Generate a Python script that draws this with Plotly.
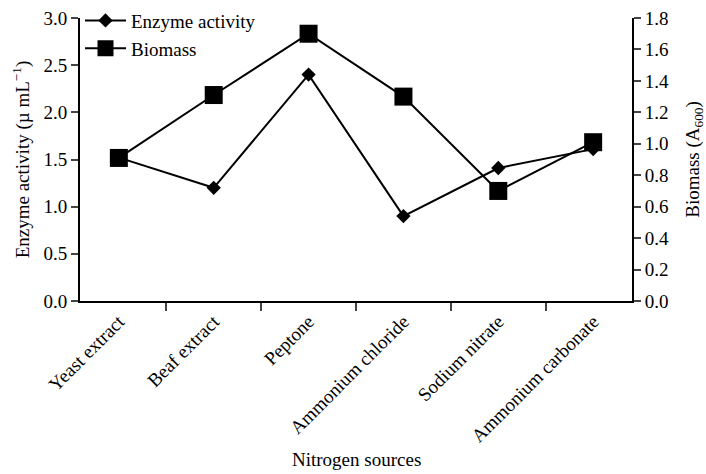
import plotly.graph_objects as go

categories = ["Yeast extract", "Beaf extract", "Peptone", "Ammonium chloride",
              "Sodium nitrate", "Ammonium carbonate"]
enzyme_activity = [1.52, 1.20, 2.40, 0.90, 1.41, 1.61]
biomass = [0.91, 1.31, 1.70, 1.30, 0.70, 1.01]

FONT = "Liberation Serif"

fig = go.Figure()
fig.add_trace(go.Scatter(
    x=categories, y=enzyme_activity, name="Enzyme activity",
    mode="lines+markers",
    line=dict(color="black", width=2),
    marker=dict(symbol="diamond", size=11, color="black"),
    yaxis="y", cliponaxis=False,
))
fig.add_trace(go.Scatter(
    x=categories, y=biomass, name="Biomass",
    mode="lines+markers",
    line=dict(color="black", width=2),
    marker=dict(symbol="square", size=18, color="black"),
    yaxis="y2", cliponaxis=False,
))

fig.update_layout(
    width=706, height=474,
    margin=dict(l=80, r=74, t=18, b=173, autoexpand=False),
    paper_bgcolor="white", plot_bgcolor="white",
    font=dict(family=FONT, size=19, color="black"),
    showlegend=True,
    legend=dict(x=0.0, y=1.058, xanchor="left", yanchor="top",
                bgcolor="rgba(0,0,0,0)", font=dict(size=19),
                tracegroupgap=0, itemsizing="trace", itemwidth=41),
    xaxis=dict(
        type="category", tickson="boundaries", ticks="outside", ticklen=8,
        tickwidth=2, showline=True, linewidth=2, linecolor="black",
        tickangle=-45, showgrid=False, zeroline=False, automargin=False,
        tickfont=dict(size=19),
    ),
    yaxis=dict(
        range=[0, 3.0], dtick=0.5, tickformat=".1f",
        ticks="outside", ticklen=7, tickwidth=2, automargin=False,
        showline=True, linewidth=2, linecolor="black",
        showgrid=False, zeroline=False, tickfont=dict(size=19),
        title=dict(text="Enzyme activity (µ mL<sup>−1</sup>)", font=dict(size=19), standoff=9),
    ),
    yaxis2=dict(
        range=[0, 1.8], dtick=0.2, tickformat=".1f",
        overlaying="y", side="right", automargin=False,
        ticks="outside", ticklen=7, tickwidth=2,
        showline=True, linewidth=2, linecolor="black",
        showgrid=False, zeroline=False, tickfont=dict(size=19),
        title=dict(text="Biomass (A<sub>600</sub>)", font=dict(size=19), standoff=28),
    ),
    annotations=[dict(
        text="Nitrogen sources", xref="paper", yref="paper",
        x=0.5, y=-0.56, xanchor="center", yanchor="middle",
        showarrow=False, font=dict(size=19),
    )],
)

fig.write_html("out.html", config={"displayModeBar": False},
               post_script="document.body.style.margin='0';")
